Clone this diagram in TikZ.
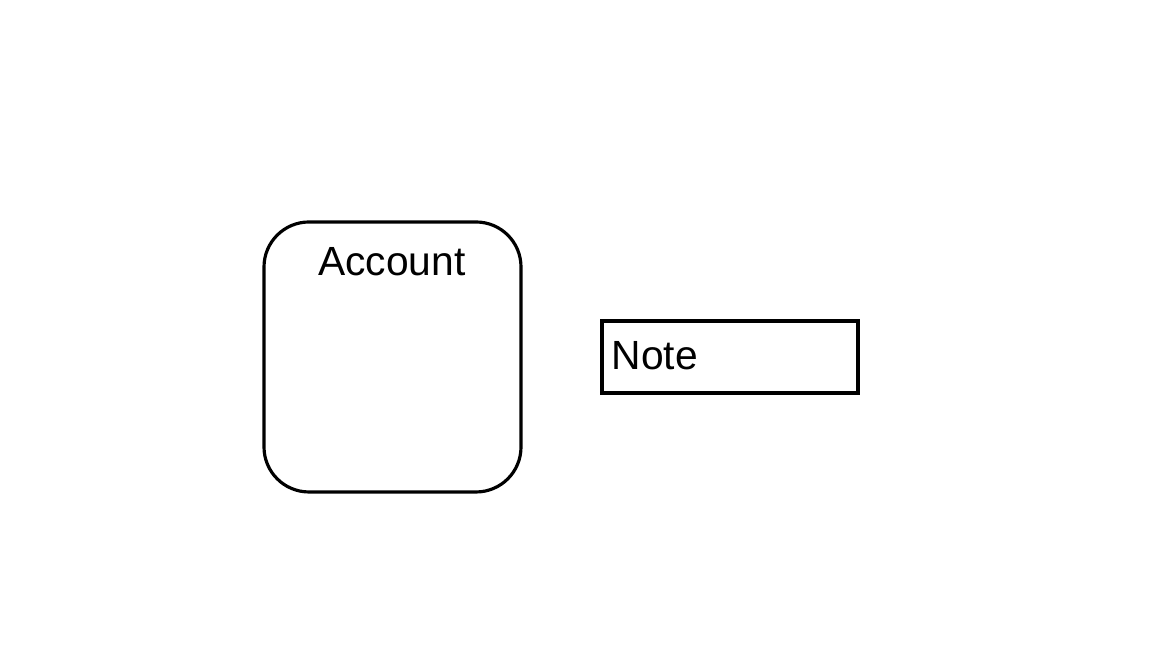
\documentclass[tikz,border=0pt]{standalone}
\usepackage{fontspec}
\setmainfont{Liberation Sans}
\begin{document}
\begin{tikzpicture}[
  sketch/.style={draw=black, line width=0.9pt},
  label text/.style={inner sep=0pt, font=\fontsize{11.6pt}{14pt}\selectfont}
]
\useasboundingbox (0,0) rectangle (11.52,6.48);
\node[sketch, rounded corners=0.45cm, minimum width=2.57cm, minimum height=2.70cm] (account) at (3.925,2.91) {};
\node[label text, anchor=base] (accounttitle) at (3.92,3.72) {Account};
\node[sketch, minimum width=2.56cm, minimum height=0.72cm] (note) at (7.30,2.91) {};
\node[label text, anchor=base west] (notetitle) at (6.11,2.78) {Note};
\end{tikzpicture}
\end{document}
